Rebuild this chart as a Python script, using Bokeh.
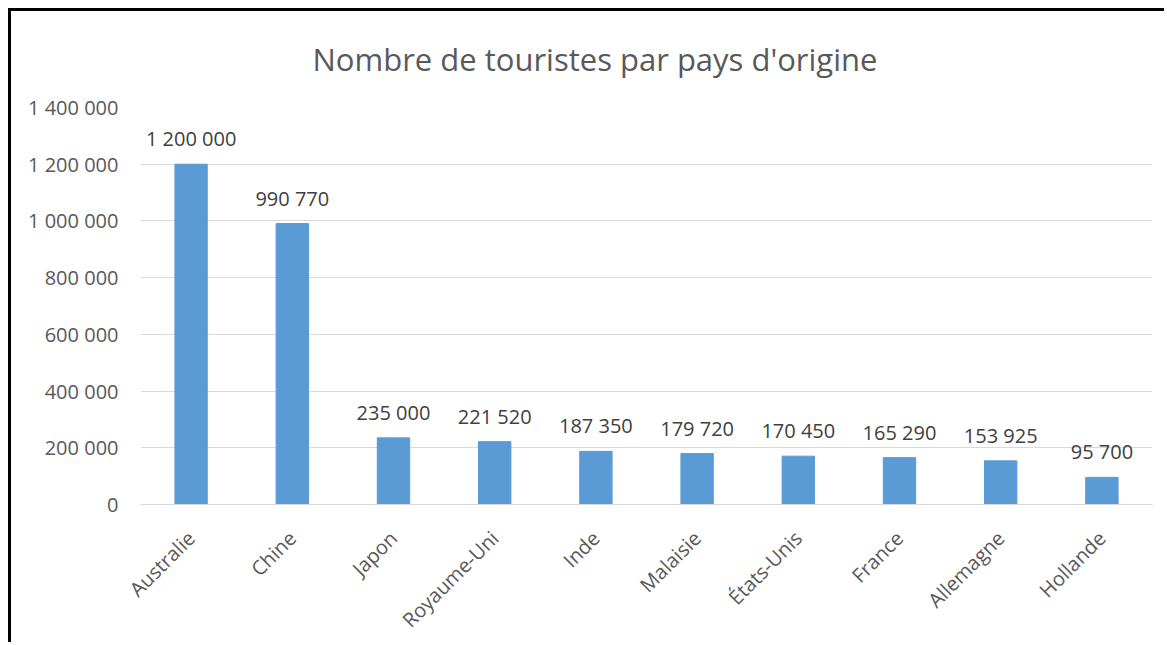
import math
from bokeh.plotting import figure
from bokeh.models import ColumnDataSource, FixedTicker
from bokeh.core.properties import value
from bokeh.embed import file_html
from bokeh.resources import INLINE

countries = ["Australie", "Chine", "Japon", "Royaume-Uni", "Inde", "Malaisie",
             "États-Unis", "France", "Allemagne", "Hollande"]
tourists = [1200000, 990770, 235000, 221520, 187350, 179720, 170450, 165290, 153925, 95700]
y_ticks = [0, 200000, 400000, 600000, 800000, 1000000, 1200000, 1400000]
title_text = "Nombre de touristes par pays d'origine"

def fmt(v):
    return f"{v:,}".replace(",", " ")

src = ColumnDataSource(dict(x=countries, top=tourists, lab=[fmt(v) for v in tourists]))

FONT = "Open Sans"
p = figure(x_range=countries, y_range=(0, 1400000), width=1156, height=634,
           output_backend="svg", toolbar_location=None,
           min_border_left=129, min_border_right=15, min_border_top=96, min_border_bottom=140)
p.margin = (8, 0, 0, 8)
p.styles = {"border-top": "3px solid black", "border-left": "3px solid black"}
p.outline_line_color = None
p.background_fill_color = "white"
p.border_fill_color = "white"

p.title.text = title_text
p.title.align = "left"
p.title.vertical_align = "top"
p.title.offset = 172
p.title.standoff = 52
p.title.text_font = FONT
p.title.text_font_size = "31px"
p.title.text_font_style = "normal"
p.title.text_color = "#595959"

p.vbar(x="x", top="top", width=0.32, source=src, color="#5B9BD5")
p.text(x="x", y="top", text="lab", source=src, text_align="center", text_baseline="bottom",
       y_offset=-12, text_font=value(FONT), text_font_size="20px", text_color="#404040")

p.yaxis.ticker = FixedTicker(ticks=y_ticks)
p.yaxis.major_label_overrides = {t: fmt(t) for t in y_ticks}
p.yaxis.axis_line_color = None
p.yaxis.major_tick_line_color = None
p.yaxis.minor_tick_line_color = None
p.yaxis.major_label_text_font = FONT
p.yaxis.major_label_text_font_size = "20px"
p.yaxis.major_label_text_color = "#595959"
p.yaxis.major_label_standoff = 16

p.xaxis.axis_line_color = "#D9D9D9"
p.xaxis.major_tick_line_color = None
p.xaxis.minor_tick_line_color = None
p.xaxis.major_label_orientation = math.pi / 4
p.xaxis.major_label_text_font = FONT
p.xaxis.major_label_text_font_size = "20px"
p.xaxis.major_label_text_color = "#595959"
p.xaxis.major_label_standoff = 24

p.xgrid.grid_line_color = None
p.ygrid.grid_line_color = "#D9D9D9"
p.ygrid.grid_line_width = 1

open("out.html", "w").write(file_html(p, INLINE))
